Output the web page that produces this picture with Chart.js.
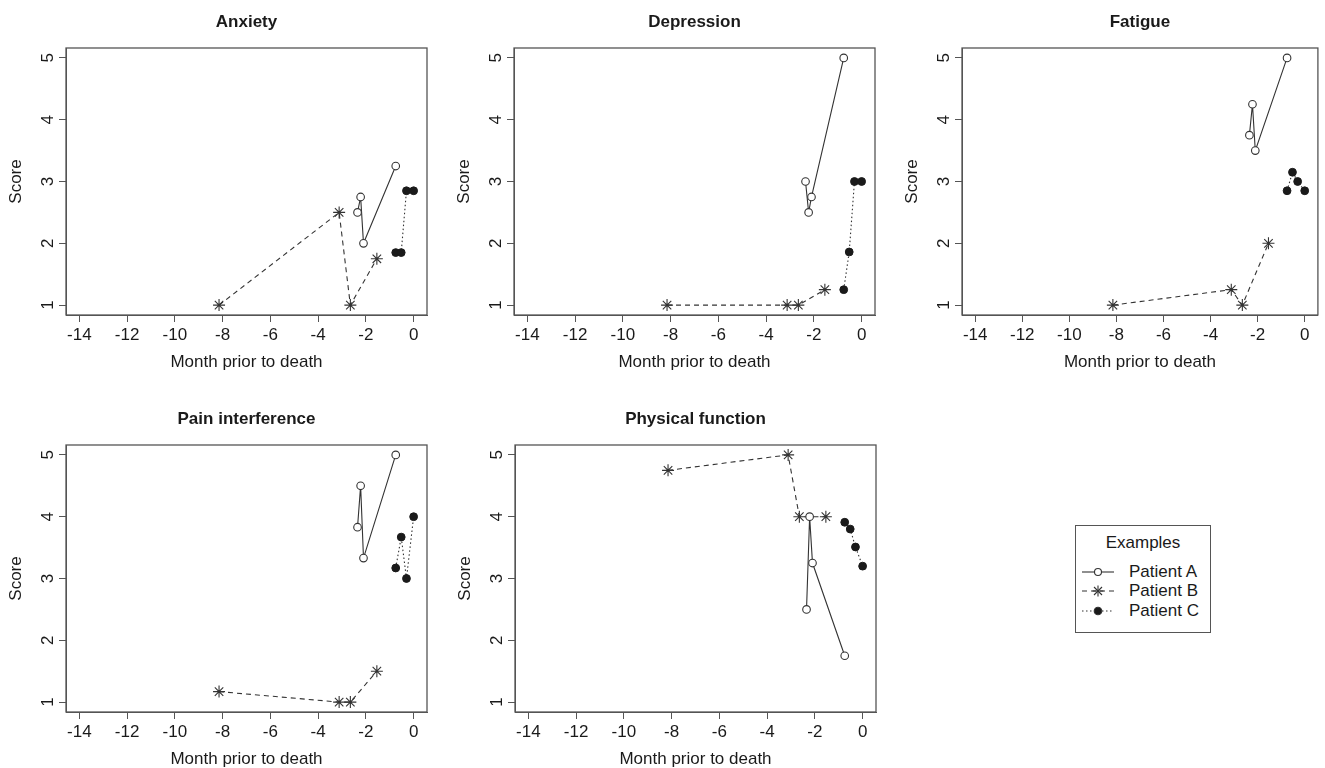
<!DOCTYPE html>
<html>
<head>
<meta charset="utf-8">
<script src="https://cdn.jsdelivr.net/npm/chart.js@4.4.1/dist/chart.umd.min.js"></script>
<style>
  html, body { margin: 0; padding: 0; background: #fff; overflow: hidden; }
  body { width: 1325px; height: 768px; position: relative; font-family: "Liberation Sans", Arial, sans-serif; color: #1a1a1a; }
  .panel { position: absolute; }
  #legend { position: absolute; left: 1075px; top: 525px; width: 134px; height: 106px; border: 1px solid #555; }
  #legend .txt { position: absolute; font-size: 17px; line-height: 20px; white-space: nowrap; }
  #legend svg { position: absolute; left: 0; top: 0; }
</style>
</head>
<body>
<canvas id="anxiety" class="panel" width="440" height="380" style="left:0px;top:0px"></canvas>
<canvas id="depression" class="panel" width="440" height="380" style="left:448px;top:0px"></canvas>
<canvas id="fatigue" class="panel" width="429" height="380" style="left:896px;top:0px"></canvas>
<canvas id="pain" class="panel" width="440" height="380" style="left:0px;top:397px"></canvas>
<canvas id="physical" class="panel" width="440" height="380" style="left:449px;top:397px"></canvas>

<div id="legend">
  <svg width="134" height="106">
    <g stroke="#333" stroke-width="1.1" fill="none">
      <line x1="6" y1="46" x2="38" y2="46"/>
      <circle cx="22" cy="46" r="3.5" fill="#fff"/>
      <line x1="6" y1="65" x2="38" y2="65" stroke-dasharray="5,4"/>
      <line x1="16.5" y1="65" x2="27.5" y2="65"/>
      <line x1="22" y1="59.5" x2="22" y2="70.5"/>
      <line x1="18" y1="61" x2="26" y2="69"/>
      <line x1="18" y1="69" x2="26" y2="61"/>
      <line x1="6" y1="85" x2="38" y2="85" stroke-dasharray="1.5,2.5"/>
      <circle cx="22" cy="85" r="3.8" fill="#1a1a1a"/>
    </g>
  </svg>
  <span class="txt" style="left:0;width:134px;text-align:center;top:7px">Examples</span>
  <span class="txt" style="left:53px;top:36px">Patient A</span>
  <span class="txt" style="left:53px;top:55px">Patient B</span>
  <span class="txt" style="left:53px;top:75px">Patient C</span>
</div>

<script>
// tick labels
const xTicks = [-14, -12, -10, -8, -6, -4, -2, 0];
const yTicks = [1, 2, 3, 4, 5];

// months prior to death for each patient's visits
const monthsA = [-2.35, -2.22, -2.1, -0.75];
const monthsB = [-8.15, -3.12, -2.65, -1.54];
const monthsC = [-0.75, -0.52, -0.3, 0];

// scores
const anxietyA = [2.5, 2.75, 2.0, 3.25];
const anxietyB = [1, 2.5, 1, 1.75];
const anxietyC = [1.85, 1.85, 2.85, 2.85];

const depressionA = [3.0, 2.5, 2.75, 5];
const depressionB = [1, 1, 1, 1.25];
const depressionC = [1.25, 1.86, 3.0, 3.0];

const fatigueA = [3.75, 4.25, 3.5, 5];
const fatigueB = [1, 1.25, 1, 2];
const fatigueC = [2.85, 3.15, 3.0, 2.85];

const painA = [3.83, 4.5, 3.33, 5];
const painB = [1.17, 1, 1, 1.5];
const painC = [3.17, 3.67, 3.0, 4.0];

const physicalA = [2.5, 4.0, 3.25, 1.75];
const physicalB = [4.75, 5, 4, 4];
const physicalC = [3.91, 3.8, 3.51, 3.2];

const INK = '#1a1a1a';
const LINE = '#333';
const AXIS = '#555';
const FONT = { family: '"Liberation Sans", Arial, sans-serif', size: 17 };

// R style box round the plot region
const boxPlugin = {
    id: 'box',
    afterDraw(chart) {
        const { ctx, chartArea: a } = chart;
        ctx.save();
        ctx.strokeStyle = AXIS;
        ctx.lineWidth = 1.3;
        ctx.strokeRect(a.left, a.top, a.right - a.left, a.bottom - a.top);
        ctx.restore();
    }
};

function pts(xs, ys) {
    return xs.map((x, i) => ({ x: x, y: ys[i] }));
}

function makePanel(id, title, a, b, c, rightPad) {
    return new Chart(document.getElementById(id), {
        type: 'scatter',
        data: {
            datasets: [
                {
                    label: 'Patient A',
                    data: pts(monthsA, a),
                    showLine: true,
                    borderColor: LINE,
                    borderWidth: 1.1,
                    pointStyle: 'circle',
                    pointRadius: 3.8,
                    pointBackgroundColor: '#fff',
                    pointBorderColor: LINE,
                    pointBorderWidth: 1.1
                },
                {
                    label: 'Patient B',
                    data: pts(monthsB, b),
                    showLine: true,
                    borderColor: LINE,
                    borderWidth: 1.1,
                    borderDash: [5, 4],
                    pointStyle: 'star',
                    pointRadius: 6,
                    pointBorderColor: LINE,
                    pointBorderWidth: 1.1
                },
                {
                    label: 'Patient C',
                    data: pts(monthsC, c),
                    showLine: true,
                    borderColor: LINE,
                    borderWidth: 1.1,
                    borderDash: [1.5, 2.5],
                    pointStyle: 'circle',
                    pointRadius: 3.9,
                    pointBackgroundColor: INK,
                    pointBorderColor: INK,
                    pointBorderWidth: 1
                }
            ]
        },
        options: {
            responsive: false,
            animation: false,
            layout: { padding: { left: 0, right: rightPad, top: 0, bottom: 0 } },
            plugins: {
                legend: { display: false },
                tooltip: { enabled: false },
                title: {
                    display: true,
                    text: title,
                    fullSize: false,
                    color: INK,
                    font: { family: FONT.family, size: 17, weight: 'bold' },
                    padding: { top: 12, bottom: 15.6 }
                }
            },
            scales: {
                x: {
                    type: 'linear',
                    min: -14.56,
                    max: 0.56,
                    afterBuildTicks: s => { s.ticks = xTicks.map(v => ({ value: v })); },
                    afterFit: s => { s.height = 65; },
                    grid: { drawOnChartArea: false, drawTicks: true, tickLength: 7, color: AXIS },
                    border: { display: true, color: AXIS },
                    ticks: { color: INK, font: FONT, padding: 3, maxRotation: 0, autoSkip: false },
                    title: { display: true, text: 'Month prior to death', color: INK, font: FONT, padding: { top: 0, bottom: 7 } }
                },
                y: {
                    type: 'linear',
                    min: 0.84,
                    max: 5.16,
                    afterBuildTicks: s => { s.ticks = yTicks.map(v => ({ value: v })); },
                    afterFit: s => { s.width = 66; },
                    grid: { drawOnChartArea: false, drawTicks: true, tickLength: 7, color: AXIS },
                    border: { display: true, color: AXIS },
                    ticks: { color: INK, font: FONT, padding: 6, minRotation: 90, maxRotation: 90, crossAlign: 'center', autoSkip: false },
                    title: { display: true, text: 'Score', color: INK, font: FONT, padding: { top: 6, bottom: 0 } }
                }
            }
        },
        plugins: [boxPlugin]
    });
}

makePanel('anxiety', 'Anxiety', anxietyA, anxietyB, anxietyC, 13);
makePanel('depression', 'Depression', depressionA, depressionB, depressionC, 13);
makePanel('fatigue', 'Fatigue', fatigueA, fatigueB, fatigueC, 2);
makePanel('pain', 'Pain interference', painA, painB, painC, 13);
makePanel('physical', 'Physical function', physicalA, physicalB, physicalC, 13);
</script>
</body>
</html>
